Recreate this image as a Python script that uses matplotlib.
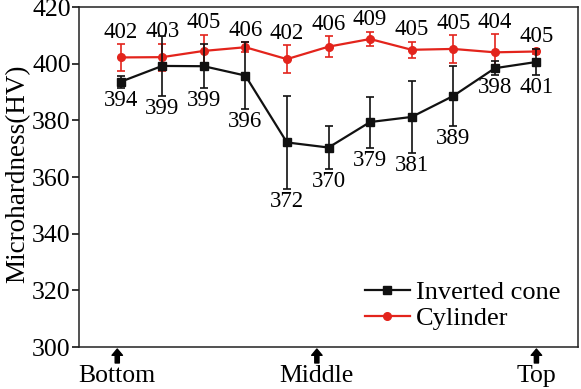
import numpy as np
import matplotlib
matplotlib.use('Agg')
import matplotlib.pyplot as plt
from matplotlib.transforms import blended_transform_factory

plt.rcParams['font.family'] = ['Liberation Serif', 'DejaVu Serif']

# sample positions along the build
x = np.arange(1, 12)

# Inverted cone
cone = [393.6, 399.2, 399.1, 395.8, 372.2, 370.4, 379.4, 381.2, 388.6, 398.4, 400.6]
cone_err = [2.2, 10.7, 7.8, 11.8, 16.5, 7.7, 9.0, 12.7, 10.6, 2.4, 4.7]
cone_labels = ['394', '399', '399', '396', '372', '370', '379', '381', '389', '398', '401']

# Cylinder
cyl = [402.2, 402.3, 404.5, 405.8, 401.6, 406.0, 408.7, 404.9, 405.2, 404.0, 404.3]
cyl_err = [4.7, 4.8, 5.7, 1.8, 5.0, 3.6, 2.6, 2.9, 4.9, 6.5, 1.0]
cyl_labels = ['402', '403', '405', '406', '402', '406', '409', '405', '405', '404', '405']

# position markers under the x axis
pos_x = [0.92, 5.72, 11.0]
pos_names = ['Bottom', 'Middle', 'Top']

RED = '#e3241c'
BLACK = '#111111'

fig = plt.figure(figsize=(5.81, 3.89), dpi=100)
ax = fig.add_axes([79/581, 1-347/389, 499/581, 340/389])

h_cyl = ax.errorbar(x, cyl, yerr=cyl_err, color=RED, marker='o', markersize=5.5,
                    linewidth=1.6, elinewidth=1.2, capsize=3, capthick=1.2,
                    label='Cylinder', zorder=3)
h_cone = ax.errorbar(x, cone, yerr=cone_err, color=BLACK, marker='s', markersize=5.5,
                     linewidth=1.6, elinewidth=1.2, capsize=3, capthick=1.2,
                     label='Inverted cone', zorder=4)

for xi, v, e, t in zip(x, cone, cone_err, cone_labels):
    ax.annotate(t, (xi, v - e), xytext=(0, -9), textcoords='offset points',
                ha='center', va='center', fontsize=16.5)
for xi, v, e, t in zip(x, cyl, cyl_err, cyl_labels):
    ax.annotate(t, (xi, v + e), xytext=(0, 8.5), textcoords='offset points',
                ha='center', va='center', fontsize=16.5)

ax.set_xlim(0, 12)
ax.set_ylim(300, 420)
ax.set_yticks(np.arange(300, 421, 20))
ax.set_xticks([])
ax.tick_params(axis='y', direction='out', length=5, width=1.1, pad=1, labelsize=18.5)
for s in ax.spines.values():
    s.set_linewidth(1.1)
    s.set_color('#222222')

ax.set_ylabel('Microhardness(HV)', fontsize=19.5)
ax.yaxis.set_label_coords(-0.098, 0.51)

trans = blended_transform_factory(ax.transData, ax.transAxes)
for xa, name in zip(pos_x, pos_names):
    ax.annotate('', xy=(xa, -0.006), xytext=(xa, -0.047), xycoords=trans,
                textcoords=trans, annotation_clip=False,
                arrowprops=dict(width=3, headwidth=7.5, headlength=4.5,
                                color='black', shrink=0))
    ax.text(xa, -0.085, name, transform=trans, ha='center', va='center',
            fontsize=18.5, clip_on=False)

leg = ax.legend(handles=[h_cone[0], h_cyl[0]], labels=['Inverted cone', 'Cylinder'],
                loc='lower right', frameon=False, fontsize=19, handlelength=1.7,
                handletextpad=0.25, labelspacing=0.1, borderaxespad=0.25)

fig.savefig('out.png', dpi=100)
